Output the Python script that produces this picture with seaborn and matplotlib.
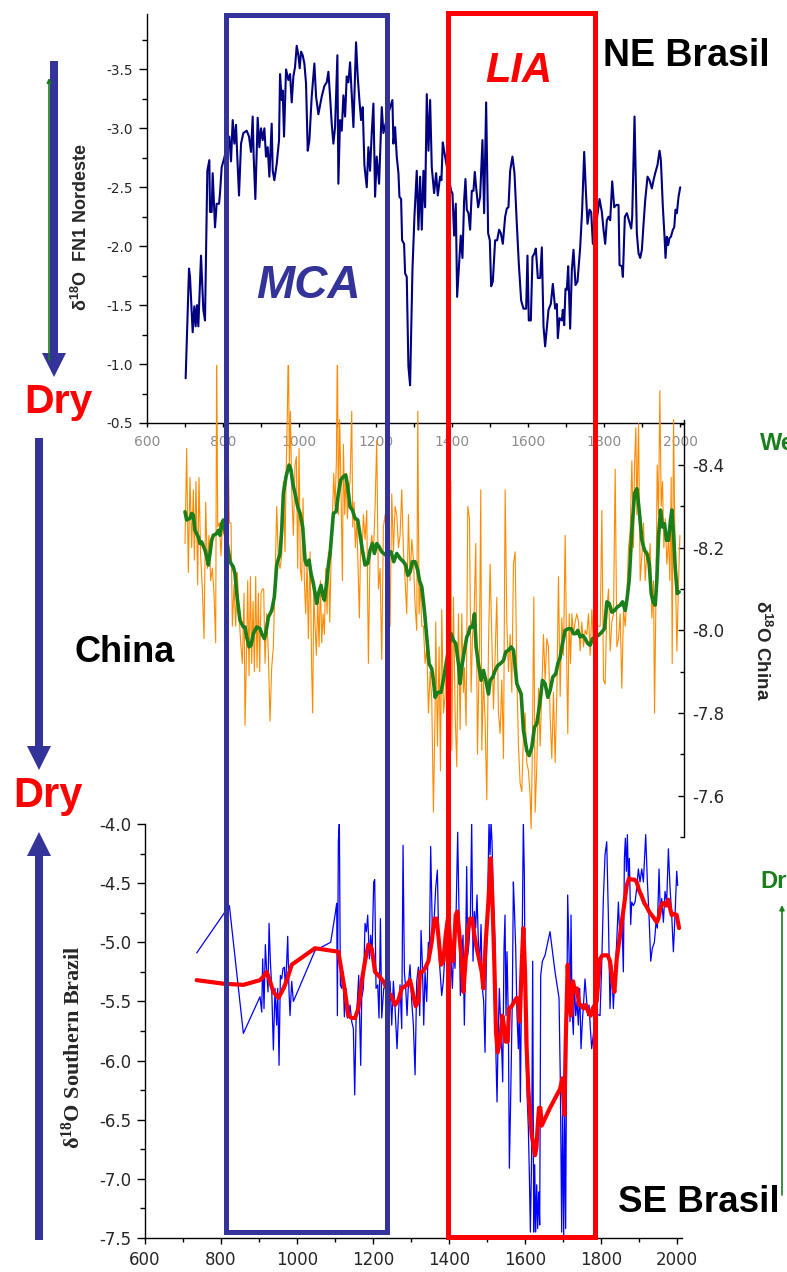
import matplotlib
matplotlib.use("Agg")
import matplotlib.pyplot as plt
import seaborn as sns
from matplotlib.patches import Rectangle, FancyArrow
from matplotlib.ticker import FixedLocator, FormatStrFormatter

# ---------------------------------------------------------------- data
# NE Brazil speleothem record (delta 18O, FN1 Nordeste)
ne_year = [701.5, 710.3, 712.9, 719.9, 724.3, 727.8, 731.3, 734.8, 741.8, 747.9, 752.3, 758.4, 763.7, 765.4,
           769.8, 772.4, 778.6, 782.9, 789.1, 791.7, 796.1, 803.0, 816.2, 820.6, 825.0, 829.4, 833.7, 836.4,
           841.6, 846.9, 853.0, 861.8, 867.9, 873.1, 877.5, 880.1, 884.5, 890.6, 895.0, 899.4, 903.8, 908.2,
           912.5, 916.9, 921.3, 927.4, 930.1, 934.4, 940.6, 946.7, 949.3, 953.7, 956.3, 959.8, 965.1, 971.2,
           975.6, 980.0, 984.3, 988.7, 993.1, 997.5, 1001.0, 1004.5, 1008.8, 1013.2, 1017.6, 1022.0, 1026.4,
           1032.5, 1039.5, 1043.9, 1050.0, 1058.8, 1065.8, 1071.9, 1076.3, 1080.7, 1085.0, 1089.4, 1093.8,
           1099.9, 1102.5, 1106.9, 1111.3, 1115.7, 1120.1, 1124.4, 1128.8, 1133.2, 1137.6, 1142.0, 1148.9,
           1153.3, 1157.7, 1162.1, 1166.5, 1170.8, 1177.0, 1181.3, 1185.7, 1190.1, 1194.5, 1198.9, 1203.2,
           1209.4, 1216.4, 1220.7, 1231.0, 1244.4, 1247.0, 1251.4, 1255.8, 1260.2, 1262.8, 1267.2, 1269.8,
           1275.0, 1277.7, 1282.0, 1286.4, 1290.8, 1297.0, 1302.2, 1308.3, 1312.7, 1317.1, 1321.5, 1325.9,
           1330.2, 1334.6, 1339.0, 1343.4, 1347.7, 1353.9, 1359.1, 1363.5, 1369.6, 1373.1, 1376.6, 1380.1,
           1391.5, 1398.5, 1402.0, 1406.4, 1410.8, 1414.3, 1420.4, 1423.9, 1428.3, 1432.7, 1436.2, 1439.7,
           1444.1, 1448.4, 1452.8, 1457.2, 1460.7, 1464.2, 1469.5, 1474.7, 1480.8, 1485.2, 1490.5, 1495.7,
           1500.1, 1503.6, 1508.0, 1514.1, 1519.4, 1524.6, 1529.0, 1534.3, 1540.4, 1544.8, 1549.1, 1553.5,
           1559.6, 1564.9, 1571.0, 1576.3, 1582.4, 1588.5, 1595.5, 1599.0, 1602.5, 1607.8, 1612.2, 1617.4,
           1620.9, 1626.2, 1632.3, 1636.7, 1641.1, 1645.4, 1654.2, 1660.3, 1665.6, 1671.7, 1676.1, 1678.7,
           1683.1, 1689.2, 1691.9, 1695.4, 1698.9, 1702.4, 1705.9, 1711.1, 1715.5, 1719.9, 1725.1, 1730.4,
           1737.4, 1742.6, 1747.9, 1752.3, 1756.6, 1761.9, 1766.3, 1770.7, 1780.0, 1788.2, 1794.3, 1798.7,
           1803.1, 1807.4, 1811.8, 1816.2, 1821.5, 1826.7, 1832.0, 1838.1, 1840.7, 1846.8, 1849.5, 1854.7,
           1860.0, 1866.1, 1871.4, 1874.0, 1880.1, 1886.2, 1890.6, 1895.0, 1899.4, 1903.8, 1908.1, 1914.3,
           1919.5, 1925.6, 1930.0, 1934.4, 1940.5, 1945.8, 1949.3, 1954.5, 1958.9, 1961.5, 1965.0, 1968.5,
           1972.0, 1975.6, 1980.8, 1984.3, 1987.8, 1991.3, 1995.7, 2000.1]
ne_d18o = [-0.88, -1.81, -1.74, -1.27, -1.49, -1.32, -1.50, -1.32, -1.92, -1.46, -1.37, -2.64, -2.73, -2.29,
           -2.29, -2.62, -2.16, -2.36, -2.36, -2.45, -2.67, -2.75, -2.93, -2.72, -3.07, -2.87, -3.03, -2.81,
           -2.43, -2.87, -2.96, -2.98, -2.93, -2.80, -3.10, -2.76, -2.40, -3.09, -2.84, -3.00, -2.90, -3.00,
           -2.76, -2.84, -2.59, -3.04, -2.64, -2.56, -2.70, -2.90, -3.46, -3.24, -3.32, -2.93, -3.50, -3.41,
           -3.46, -3.22, -3.44, -3.52, -3.70, -3.62, -3.51, -3.65, -3.62, -3.55, -3.38, -2.81, -2.90,
           -3.27, -3.55, -3.27, -3.12, -3.27, -3.36, -3.39, -3.48, -3.27, -3.04, -2.87, -3.01,
           -3.62, -2.53, -3.07, -2.98, -3.28, -3.10, -3.44, -3.39, -3.56, -3.29, -3.01, -3.73,
           -3.44, -3.24, -3.07, -3.18, -2.69, -2.50, -2.84, -2.64, -2.96, -3.21, -2.42, -2.76,
           -2.53, -3.18, -2.96, -3.10, -3.24, -2.87, -3.01, -2.76, -2.62, -2.42, -2.40, -2.05,
           -2.02, -1.77, -1.74, -0.98, -0.82, -1.80, -2.25, -2.64, -2.14, -2.59, -2.14, -2.64,
           -2.33, -3.29, -2.81, -3.24, -2.67, -2.45, -2.62, -2.43, -2.59, -2.56, -2.88, -2.81,
           -2.60, -2.47, -2.45, -2.09, -2.36, -1.57, -1.91, -2.09, -1.90, -2.39, -2.57, -2.31,
           -2.28, -2.14, -2.47, -2.47, -2.63, -2.50, -2.33, -2.42, -2.90, -2.28, -3.22, -2.11,
           -2.05, -1.66, -1.70, -2.05, -2.05, -2.14, -2.11, -2.02, -2.25, -2.32, -2.33, -2.64,
           -2.76, -2.62, -2.19, -1.85, -1.54, -1.47, -1.47, -1.92, -1.37, -1.37, -1.91, -1.94,
           -1.98, -1.73, -1.73, -1.99, -1.32, -1.15, -1.46, -1.51, -1.68, -1.47, -1.51, -1.22,
           -1.39, -1.37, -1.46, -1.33, -1.64, -1.63, -1.83, -1.30, -1.80, -1.97, -1.67, -1.70,
           -1.99, -2.31, -2.80, -2.47, -2.19, -2.31, -2.29, -2.02, -2.20, -2.40, -2.29, -2.14,
           -2.02, -2.22, -2.25, -2.22, -2.55, -2.33, -2.35, -2.35, -1.84, -1.83, -1.74, -2.25,
           -2.28, -2.21, -2.15, -2.25, -3.10, -2.11, -1.94, -1.90, -1.97, -2.19, -2.39, -2.59,
           -2.56, -2.49, -2.56, -2.62, -2.69, -2.81, -2.73, -2.33, -2.08, -1.90, -2.08, -2.01,
           -2.07, -2.08, -2.14, -2.16, -2.31, -2.28, -2.42, -2.50]

# China speleothem record: raw values and smoothed curve
china_year = [699.8, 704.1, 708.5, 712.9, 717.3, 721.7, 724.3, 728.7, 733.0, 736.5, 740.9, 745.3, 749.7,
              754.1, 758.4, 762.8, 767.2, 771.6, 775.9, 780.3, 783.0, 785.6, 790.0, 794.3, 797.8, 802.2,
              809.2, 813.6, 816.2, 820.6, 824.1, 828.5, 832.9, 837.2, 841.6, 846.0, 850.4, 854.8, 857.4,
              860.9, 864.4, 867.9, 871.4, 874.9, 878.4, 881.9, 885.4, 888.9, 892.4, 895.9, 899.4, 902.9,
              906.4, 909.9, 914.3, 918.7, 923.0, 927.4, 931.8, 936.2, 940.6, 944.9, 949.3, 953.7, 958.1,
              962.4, 965.1, 968.6, 971.2, 973.8, 976.5, 980.0, 984.3, 988.7, 992.2, 995.7, 999.2, 1002.7,
              1006.2, 1009.7, 1013.2, 1016.7, 1020.2, 1023.7, 1028.1, 1032.5, 1035.1, 1037.8, 1041.3,
              1044.8, 1048.3, 1051.8, 1055.3, 1058.8, 1062.3, 1065.8, 1069.3, 1072.8, 1076.3, 1079.8,
              1083.3, 1086.8, 1090.3, 1093.8, 1097.3, 1099.9, 1102.5, 1106.0, 1109.5, 1113.1, 1115.7,
              1119.2, 1122.7, 1126.2, 1129.7, 1133.2, 1137.6, 1140.2, 1143.7, 1147.2, 1150.7, 1154.2,
              1157.7, 1161.2, 1164.7, 1168.2, 1172.6, 1177.0, 1181.3, 1185.7, 1190.1, 1194.5, 1198.9,
              1203.2, 1207.6, 1212.0, 1216.4, 1220.7, 1225.1, 1231.2, 1238.3, 1242.6, 1247.0, 1251.4,
              1255.8, 1260.2, 1264.5, 1268.9, 1273.3, 1277.7, 1282.0, 1286.4, 1290.8, 1295.2, 1299.6,
              1303.9, 1308.3, 1311.0, 1314.4, 1317.9, 1321.4, 1325.8, 1330.2, 1334.6, 1339.0, 1343.3,
              1347.7, 1352.1, 1356.5, 1358.2, 1362.6, 1367.0, 1370.5, 1374.0, 1378.4, 1382.7, 1393.2,
              1397.6, 1400.2, 1404.6, 1409.0, 1413.4, 1417.8, 1422.1, 1426.5, 1430.9, 1433.5, 1437.9,
              1442.3, 1446.7, 1451.0, 1454.5, 1458.9, 1463.3, 1467.7, 1472.9, 1476.4, 1479.1, 1483.4,
              1487.8, 1492.2, 1496.6, 1500.9, 1505.3, 1509.7, 1514.1, 1518.5, 1522.8, 1527.2, 1531.6,
              1536.0, 1540.4, 1544.8, 1549.1, 1553.5, 1557.9, 1562.2, 1566.6, 1571.0, 1575.4, 1579.7,
              1584.1, 1588.5, 1592.9, 1597.3, 1601.6, 1606.0, 1608.6, 1612.1, 1615.6, 1619.1, 1623.5,
              1627.9, 1632.3, 1636.7, 1641.0, 1645.4, 1649.8, 1654.2, 1658.6, 1662.9, 1667.3, 1671.7,
              1676.1, 1680.4, 1684.8, 1689.2, 1693.6, 1698.0, 1702.3, 1704.8, 1708.5, 1712.0, 1715.5,
              1719.8, 1724.2, 1728.6, 1733.0, 1737.4, 1741.7, 1746.1, 1750.5, 1754.9, 1759.2, 1763.6,
              1768.0, 1772.4, 1776.8, 1789.9, 1794.3, 1798.6, 1803.0, 1807.4, 1811.8, 1816.2, 1820.6,
              1824.9, 1829.3, 1833.7, 1838.1, 1842.4, 1846.8, 1851.2, 1855.6, 1859.9, 1864.3, 1868.7,
              1873.1, 1877.4, 1880.1, 1883.6, 1886.2, 1890.6, 1895.0, 1899.4, 1903.7, 1908.1, 1912.5,
              1916.9, 1921.2, 1925.6, 1930.0, 1932.6, 1936.1, 1939.6, 1943.1, 1946.6, 1950.1, 1953.6,
              1957.1, 1960.6, 1965.0, 1969.4, 1972.9, 1976.4, 1979.0, 1982.5, 1986.9, 1991.3, 1995.7,
              1999.2]
china_d18o = [-8.21, -8.44, -8.14, -8.37, -8.20, -8.34, -8.17, -8.36, -8.11, -8.37, -8.18, -8.10, -7.98,
              -8.31, -8.15, -8.23, -8.12, -8.15, -8.09, -7.97, -8.70, -8.25, -8.26, -8.18, -8.26, -8.23,
              -8.34, -8.42, -8.26, -8.26, -8.01, -8.11, -8.01, -8.14, -8.04, -7.97, -7.92, -8.09, -7.77,
              -7.93, -8.12, -7.89, -8.13, -7.92, -8.07, -7.90, -8.13, -7.91, -8.09, -7.90, -8.09, -8.10,
              -8.10, -7.92, -8.04, -7.94, -7.78, -7.91, -7.96, -8.12, -8.30, -8.17, -8.15, -8.18, -8.36,
              -8.19, -8.37, -8.53, -8.70, -8.40, -8.53, -8.34, -8.23, -8.40, -8.42, -8.15, -8.44, -8.15,
              -8.12, -8.32, -8.12, -8.04, -8.17, -7.98, -8.19, -7.90, -7.80, -8.09, -8.01,
              -7.94, -8.08, -7.96, -8.12, -7.97, -8.04, -7.99, -8.15, -8.04, -8.19, -8.02,
              -8.17, -8.27, -8.38, -8.30, -8.41, -8.70, -8.28, -8.51, -8.33, -8.12, -8.45,
              -8.28, -8.38, -8.27, -8.34, -8.36, -8.53, -8.25, -8.31, -8.20, -8.27, -8.15,
              -8.03, -8.23, -8.19, -8.28, -8.22, -8.29, -7.92, -8.19, -8.23, -8.19, -8.30,
              -8.46, -8.10, -8.15, -7.93, -8.25, -8.28, -8.16, -8.01, -8.33, -8.19, -8.30,
              -8.28, -8.20, -8.23, -8.34, -8.19, -8.12, -8.04, -8.28, -8.12, -8.22, -8.17,
              -8.06, -8.00, -8.53, -8.04, -8.12, -8.01, -8.01, -7.92, -7.96, -7.80, -7.90,
              -7.83, -7.56, -7.81, -8.02, -7.72, -7.96, -7.66, -8.05, -7.80, -7.84, -8.11,
              -8.36, -7.71, -8.08, -7.80, -7.67, -8.04, -7.76, -8.04, -7.85, -7.91, -7.77,
              -8.30, -8.27, -7.85, -7.98, -8.04, -8.21, -7.70, -7.96, -8.34, -7.71, -7.88,
              -7.78, -7.59, -7.96, -8.16, -7.99, -7.81, -7.94, -8.08, -7.80, -7.75, -7.88,
              -7.69, -8.34, -8.02, -7.90, -7.99, -7.85, -8.16, -8.19, -7.90, -7.72, -7.63,
              -7.61, -7.75, -7.80, -7.68, -7.66, -7.60, -7.52, -7.73, -8.08, -7.56, -7.67,
              -7.86, -7.72, -7.86, -7.99, -7.88, -7.98, -7.96, -7.79, -7.69, -7.85, -7.68,
              -7.85, -8.13, -7.84, -8.03, -7.94, -8.23, -7.91, -7.75, -8.04, -7.92, -8.04,
              -7.99, -8.02, -8.04, -8.02, -7.95, -8.02, -7.96, -8.00, -7.99, -8.04, -7.94,
              -8.05, -7.96, -8.01, -8.01, -8.29, -7.88, -7.87, -8.05, -8.10, -7.95, -8.02,
              -8.04, -8.39, -7.96, -7.98, -8.04, -7.86, -8.05, -8.01, -8.08, -8.20, -8.24,
              -8.41, -8.20, -8.40, -8.49, -8.28, -8.50, -8.12, -8.18, -8.26, -8.12, -8.19,
              -8.15, -8.21, -8.03, -8.12, -7.80, -8.06, -8.40, -8.28, -8.58, -8.30, -8.36,
              -8.20, -8.27, -8.16, -8.22, -8.12, -8.37, -7.92, -8.51, -8.16, -7.95, -8.12,
              -8.23]
china_smooth_year = [699.8, 704.1, 712.9, 717.3, 721.7, 726.0, 734.8, 739.2, 743.5, 752.3, 756.7, 761.1,
                     765.4, 769.8, 774.2, 783.0, 787.3, 791.7, 796.1, 800.5, 813.6, 818.0, 826.7, 831.1,
                     835.5, 844.2, 853.0, 857.4, 861.8, 867.9, 873.1, 879.3, 888.1, 896.8, 901.2, 908.2,
                     911.7, 918.7, 927.4, 934.4, 940.6, 949.3, 953.7, 958.1, 965.1, 973.0, 978.2, 982.6,
                     988.7, 995.7, 1001.9, 1008.8, 1015.0, 1019.4, 1025.5, 1030.7, 1036.9, 1041.2, 1045.6,
                     1050.0, 1057.0, 1061.4, 1065.8, 1071.9, 1076.3, 1080.7, 1089.4, 1096.4, 1102.5, 1108.7,
                     1115.7, 1121.8, 1127.1, 1133.2, 1139.3, 1146.3, 1153.3, 1159.5, 1165.6, 1172.6, 1179.6,
                     1185.7, 1191.9, 1197.1, 1203.2, 1209.4, 1216.4, 1226.9, 1240.9, 1247.9, 1255.8, 1264.5,
                     1273.3, 1279.4, 1284.7, 1290.8, 1296.9, 1304.0, 1311.0, 1315.3, 1321.5, 1328.4, 1334.6,
                     1340.7, 1347.7, 1352.1, 1356.5, 1363.5, 1372.2, 1381.0, 1398.5, 1404.6, 1410.8, 1417.8,
                     1422.1, 1426.5, 1433.5, 1439.7, 1444.0, 1448.4, 1454.5, 1459.8, 1464.2, 1470.3, 1477.3,
                     1483.4, 1489.6, 1496.6, 1500.9, 1507.9, 1514.1, 1521.1, 1527.2, 1536.0, 1542.1, 1549.1,
                     1556.1, 1562.2, 1571.0, 1582.4, 1588.5, 1597.3, 1603.4, 1610.4, 1617.4, 1623.5, 1632.3,
                     1638.4, 1645.4, 1652.4, 1658.6, 1665.6, 1673.4, 1678.7, 1684.8, 1691.0, 1697.9, 1706.7,
                     1713.7, 1719.8, 1725.9, 1731.2, 1737.3, 1743.5, 1750.5, 1757.5, 1763.6, 1769.8, 1785.5,
                     1794.3, 1801.3, 1807.4, 1813.6, 1820.6, 1827.6, 1835.4, 1842.4, 1848.6, 1855.6, 1860.0,
                     1866.1, 1873.1, 1880.1, 1886.2, 1892.3, 1899.4, 1906.3, 1912.5, 1918.6, 1923.9, 1929.1,
                     1934.4, 1938.7, 1943.1, 1948.4, 1953.6, 1958.9, 1964.1, 1969.4, 1974.6, 1978.1, 1982.5,
                     1986.9, 1992.2, 1997.4]
china_smooth_d18o = [-8.287, -8.267, -8.271, -8.283, -8.279, -8.242, -8.226, -8.210, -8.214, -8.194, -8.178,
                     -8.158, -8.186, -8.218, -8.230, -8.234, -8.242, -8.230, -8.258, -8.267, -8.194, -8.166,
                     -8.153, -8.137, -8.089, -8.024, -8.008, -8.008, -7.984, -7.960, -7.964, -7.992, -8.008,
                     -8.004, -7.992, -7.980, -7.992, -8.032, -8.048, -8.081, -8.158, -8.186, -8.242, -8.331,
                     -8.372, -8.400, -8.388, -8.356, -8.331, -8.299, -8.283, -8.250, -8.170, -8.158, -8.170,
                     -8.137, -8.113, -8.089, -8.065, -8.089, -8.109, -8.085, -8.073, -8.117, -8.158, -8.186,
                     -8.283, -8.287, -8.331, -8.364, -8.372, -8.376, -8.347, -8.299, -8.291, -8.271, -8.267,
                     -8.230, -8.194, -8.158, -8.162, -8.194, -8.210, -8.186, -8.210, -8.202, -8.190, -8.182,
                     -8.190, -8.166, -8.186, -8.174, -8.166, -8.158, -8.133, -8.141, -8.166, -8.166, -8.145,
                     -8.121, -8.105, -8.048, -7.984, -7.919, -7.907, -7.879, -7.838, -7.850, -7.850, -7.895,
                     -7.992, -7.976, -7.968, -7.919, -7.871, -7.911, -7.952, -7.984, -7.992, -8.008, -8.008,
                     -8.040, -7.960, -7.919, -7.879, -7.903, -7.879, -7.846, -7.879, -7.887, -7.903, -7.915,
                     -7.919, -7.927, -7.948, -7.952, -7.960, -7.952, -7.871, -7.846, -7.758, -7.709, -7.697,
                     -7.717, -7.766, -7.774, -7.830, -7.879, -7.871, -7.838, -7.855, -7.887, -7.895, -7.919,
                     -7.935, -7.968, -8.000, -8.004, -8.004, -7.992, -7.992, -8.000, -7.984, -7.988, -7.980,
                     -7.968, -7.964, -7.980, -7.988, -7.996, -8.004, -8.069, -8.065, -8.044, -8.048, -8.057,
                     -8.061, -8.069, -8.048, -8.073, -8.121, -8.242, -8.331, -8.343, -8.291, -8.218, -8.194,
                     -8.186, -8.162, -8.089, -8.069, -8.061, -8.121, -8.226, -8.291, -8.250, -8.258, -8.218,
                     -8.218, -8.267, -8.291, -8.234, -8.153, -8.089, -8.093]

# Southern Brazil speleothem record: raw values and smoothed curve
sb_year = [736.0, 822.0, 858.8, 902.7, 907.1, 909.7, 913.2, 916.7, 920.2, 923.7, 926.4, 929.9, 933.4, 937.8,
           942.1, 946.5, 949.2, 952.7, 956.2, 959.7, 963.2, 966.7, 969.3, 972.9, 975.5, 979.0, 981.6, 986.0,
           990.4, 1047.4, 1088.6, 1100.0, 1104.4, 1106.2, 1108.8, 1111.4, 1114.1, 1117.6, 1121.1, 1124.6,
           1129.0, 1132.5, 1136.0, 1139.5, 1143.9, 1148.3, 1151.8, 1155.3, 1158.8, 1162.3, 1167.6, 1170.2,
           1174.6, 1179.0, 1182.5, 1186.0, 1190.4, 1193.9, 1197.4, 1201.8, 1204.4, 1207.9, 1212.3, 1215.8,
           1219.4, 1222.9, 1228.1, 1244.8, 1249.2, 1253.6, 1258.0, 1263.2, 1266.7, 1271.1, 1275.5, 1279.0,
           1282.5, 1286.0, 1289.5, 1293.0, 1297.4, 1301.8, 1306.2, 1310.6, 1315.0, 1319.4, 1322.9, 1326.4,
           1329.9, 1333.4, 1336.8, 1341.2, 1345.6, 1348.2, 1351.7, 1356.1, 1360.5, 1364.9, 1369.3, 1373.6,
           1377.2, 1380.7, 1385.0, 1389.4, 1397.0, 1405.2, 1408.7, 1412.2, 1415.7, 1419.3, 1422.8, 1426.3,
           1429.8, 1433.3, 1436.8, 1440.3, 1443.8, 1446.5, 1449.1, 1452.6, 1456.1, 1459.6, 1463.1, 1466.6,
           1470.1, 1473.6, 1477.2, 1480.7, 1484.2, 1487.7, 1491.2, 1494.7, 1498.2, 1501.7, 1505.2, 1507.9,
           1510.5, 1513.1, 1516.6, 1521.0, 1523.6, 1526.3, 1528.9, 1532.4, 1535.0, 1538.6, 1541.2, 1544.7,
           1547.3, 1549.9, 1552.6, 1556.1, 1558.7, 1561.4, 1564.0, 1566.6, 1569.3, 1571.9, 1575.4, 1578.9,
           1582.4, 1585.0, 1587.7, 1590.3, 1592.9, 1595.5, 1598.2, 1600.8, 1603.5, 1606.1, 1608.7, 1611.4,
           1614.0, 1617.5, 1620.1, 1622.8, 1625.4, 1628.0, 1630.7, 1633.3, 1635.9, 1638.6, 1641.2, 1645.6,
           1652.6, 1665.7, 1678.9, 1689.4, 1692.9, 1696.4, 1699.0, 1701.7, 1704.3, 1706.9, 1709.6, 1712.2,
           1715.7, 1718.4, 1721.0, 1723.6, 1727.1, 1729.8, 1733.3, 1736.8, 1740.3, 1743.8, 1747.3, 1750.8,
           1754.3, 1757.8, 1761.4, 1764.9, 1768.4, 1771.9, 1775.4, 1786.0, 1797.3, 1801.7, 1806.1, 1810.5,
           1814.9, 1819.2, 1823.6, 1828.0, 1832.4, 1836.8, 1841.2, 1845.6, 1849.9, 1854.4, 1858.7, 1861.4,
           1864.0, 1866.6, 1869.3, 1871.9, 1874.5, 1878.0, 1880.7, 1885.1, 1889.5, 1893.9, 1898.2, 1902.6,
           1907.0, 1911.4, 1917.5, 1921.9, 1926.2, 1930.7, 1935.0, 1940.3, 1944.7, 1948.2, 1952.6, 1956.1,
           1959.6, 1964.0, 1968.4, 1972.7, 1977.2, 1981.5, 1985.9, 1990.3, 1994.7, 1999.1, 2001.7]
sb_d18o = [-5.09, -4.69, -5.77, -5.46, -5.59, -5.14, -5.56, -5.02, -5.25, -5.42, -4.84, -5.16, -5.39, -5.91,
           -5.39, -5.70, -5.39, -6.04, -5.28, -5.31, -5.22, -5.21, -5.39, -5.16, -4.95, -5.42, -5.62, -5.33,
           -5.50, -5.07, -5.00, -4.77, -4.67, -5.62, -4.14, -3.98, -5.36, -5.39, -5.25, -5.63,
           -5.39, -5.64, -5.62, -5.53, -5.67, -5.73, -6.29, -5.67, -5.50, -5.28, -6.04, -5.47,
           -5.39, -4.84, -4.91, -4.77, -5.14, -4.94, -5.11, -4.49, -4.47, -5.39, -5.36, -5.64,
           -4.80, -5.64, -5.39, -5.33, -5.70, -5.33, -5.56, -5.90, -5.62, -5.36, -5.73, -4.18,
           -5.25, -5.39, -5.62, -5.36, -5.19, -5.50, -5.70, -6.12, -5.33, -5.21, -5.62, -4.90,
           -5.19, -5.70, -5.25, -5.50, -5.00, -5.11, -4.19, -4.91, -4.83, -4.54, -4.39, -5.11,
           -5.28, -5.45, -5.33, -5.08, -4.90, -5.14, -5.39, -5.04, -5.22, -4.63, -4.07, -4.77,
           -5.45, -5.11, -4.94, -5.70, -5.02, -4.36, -5.11, -5.00, -4.80, -3.98, -5.16, -4.74,
           -4.88, -4.60, -5.00, -5.19, -4.85, -5.39, -5.50, -5.93, -5.16, -4.63, -3.98, -4.26,
           -3.98, -4.15, -4.63, -5.00, -5.98, -6.35, -5.84, -5.39, -5.62, -5.90, -6.18, -5.05,
           -4.77, -5.62, -5.08, -5.67, -6.91, -6.46, -5.95, -5.47, -4.49, -4.71, -5.05, -5.62,
           -5.90, -5.50, -6.35, -5.53, -4.85, -3.98, -4.43, -5.84, -6.04, -6.35, -6.57, -6.97,
           -7.45, -6.77, -5.16, -7.45, -6.88, -7.45, -7.05, -7.42, -7.11, -7.39, -5.28, -5.16,
           -5.11, -4.91, -5.25, -5.47, -6.18, -7.45, -6.38, -7.48, -6.46, -7.42, -5.73, -4.60,
           -5.08, -5.67, -4.77, -5.56, -5.78, -5.33, -5.62, -5.50, -5.70, -5.39, -5.90, -5.67,
           -5.50, -5.31, -5.47, -5.62, -5.53, -5.73, -5.90, -5.60, -5.62, -5.19, -4.63, -4.26,
           -4.15, -4.77, -5.56, -5.19, -5.56, -5.25, -5.00, -4.66, -5.00, -4.77, -5.25, -4.29,
           -4.12, -4.40, -4.09, -4.49, -4.29, -4.85, -4.66, -4.69, -4.66, -4.54, -4.38, -4.49,
           -4.38, -4.49, -4.09, -4.49, -4.77, -5.16, -5.05, -5.00, -4.83, -4.88, -4.38, -4.77,
           -4.63, -4.83, -4.57, -4.66, -4.21, -4.54, -4.77, -5.08, -4.77, -4.40, -4.52]
sb_smooth_year = [736.0, 806.2, 858.8, 902.7, 911.4, 920.2, 929.0, 937.8, 950.9, 959.7, 968.5, 977.2, 986.0,
                  1008.0, 1047.4, 1108.8, 1117.6, 1126.4, 1135.1, 1143.9, 1152.7, 1161.5, 1170.2, 1179.0,
                  1187.8, 1196.5, 1205.3, 1214.1, 1227.2, 1240.4, 1249.2, 1258.0, 1266.7, 1275.5, 1288.7,
                  1297.4, 1306.2, 1312.3, 1319.4, 1323.7, 1329.9, 1336.8, 1345.6, 1354.3, 1361.4, 1367.5,
                  1373.6, 1378.9, 1385.0, 1391.2, 1398.2, 1405.2, 1411.4, 1417.5, 1421.9, 1427.2, 1433.3,
                  1437.7, 1443.8, 1449.1, 1455.2, 1461.4, 1466.6, 1472.8, 1478.9, 1485.9, 1490.3, 1496.5,
                  1503.5, 1509.6, 1514.0, 1519.3, 1523.6, 1528.0, 1534.2, 1540.3, 1545.6, 1549.1, 1554.4,
                  1557.9, 1564.9, 1571.9, 1578.0, 1582.4, 1586.0, 1591.2, 1595.5, 1600.0, 1604.3, 1608.7,
                  1613.1, 1617.5, 1621.9, 1626.3, 1629.8, 1633.3, 1636.8, 1640.3, 1643.8, 1652.6, 1665.7,
                  1678.9, 1692.1, 1698.2, 1703.5, 1707.0, 1712.2, 1716.6, 1721.0, 1726.3, 1731.5, 1736.8,
                  1742.1, 1747.3, 1753.5, 1759.6, 1766.6, 1772.8, 1778.0, 1788.6, 1797.3, 1803.5, 1810.5,
                  1817.5, 1823.6, 1829.8, 1835.1, 1841.2, 1847.4, 1854.4, 1860.5, 1867.5, 1873.7, 1880.7,
                  1887.7, 1893.9, 1900.0, 1907.0, 1914.0, 1920.1, 1926.3, 1933.3, 1940.3, 1946.5, 1950.8,
                  1956.1, 1961.4, 1966.6, 1971.9, 1977.2, 1981.5, 1985.9, 1992.9, 1999.1, 2005.2]
sb_smooth_d18o = [-5.32, -5.35, -5.36, -5.32, -5.29, -5.25, -5.33, -5.42, -5.47, -5.42, -5.36, -5.28, -5.19,
                  -5.14, -5.05, -5.08, -5.25, -5.42, -5.62, -5.64, -5.64, -5.56, -5.33, -5.16,
                  -5.02, -5.05, -5.25, -5.28, -5.33, -5.42, -5.46, -5.53, -5.49, -5.39, -5.36,
                  -5.32, -5.45, -5.54, -5.50, -5.25, -5.25, -5.22, -5.16, -5.00, -4.80, -4.80,
                  -5.00, -5.19, -5.16, -4.94, -4.77, -5.11, -5.16, -4.77, -4.74, -4.94, -5.16,
                  -5.42, -5.14, -4.91, -4.80, -4.80, -4.94, -5.05, -5.14, -5.25, -5.39, -5.00,
                  -4.66, -4.29, -4.63, -5.19, -5.76, -5.93, -5.84, -5.62, -5.73, -5.84, -5.84,
                  -5.56, -5.54, -5.50, -5.47, -5.50, -5.67, -5.19, -4.88, -5.25, -5.90, -6.24,
                  -6.46, -6.63, -6.71, -6.80, -6.74, -6.55, -6.40, -6.40, -6.55, -6.49, -6.40,
                  -6.32, -6.24, -6.15, -6.46, -5.84, -5.19, -5.50, -5.62, -5.33, -5.42, -5.39,
                  -5.53, -5.53, -5.56, -5.53, -5.59, -5.62, -5.56, -5.50, -5.14, -5.11, -5.11,
                  -5.11, -5.16, -5.33, -5.42, -5.14, -5.00, -4.83, -4.69, -4.52, -4.46, -4.47,
                  -4.47, -4.49, -4.56, -4.61, -4.67, -4.70, -4.74, -4.77, -4.80, -4.83, -4.80,
                  -4.71, -4.67, -4.67, -4.69, -4.64, -4.71, -4.77, -4.76, -4.77, -4.88]

# axis ticks
year_major = [600, 800, 1000, 1200, 1400, 1600, 1800, 2000]
year_minor = [700, 900, 1100, 1300, 1500, 1700, 1900]
ne_major = [-3.5, -3.0, -2.5, -2.0, -1.5, -1.0, -0.5]
ne_minor = [-3.75, -3.25, -2.75, -2.25, -1.75, -1.25, -0.75]
china_major = [-8.4, -8.2, -8.0, -7.8, -7.6]
china_minor = [-8.5, -8.3, -8.1, -7.9, -7.7, -7.5]
sb_major = [-7.5, -7.0, -6.5, -6.0, -5.5, -5.0, -4.5, -4.0]
sb_minor = [-7.25, -6.75, -6.25, -5.75, -5.25, -4.75, -4.25]

# ---------------------------------------------------------------- style
sns.set_theme(style="white")
plt.rcParams["font.family"] = ["DejaVu Sans"]
plt.rcParams["axes.unicode_minus"] = False

W, H = 787, 1272
fig = plt.figure(figsize=(W / 100, H / 100), dpi=100, facecolor="white")

NAVY = "#000080"
ORANGE = "#ff8a00"
GREEN = "#1a7f1a"
BLUE = "#0000ff"
RED = "#ff0000"
SLATE = "#333399"


def px_axes(left, top, right, bottom):
    return fig.add_axes([left / W, 1 - bottom / H, (right - left) / W, (bottom - top) / H])


ax_top = px_axes(147, 14, 684, 423)
ax_mid = px_axes(147, 365, 684, 837)
ax_bot = px_axes(145, 824, 682, 1238)
for ax in (ax_top, ax_mid, ax_bot):
    ax.patch.set_visible(False)

# ---- NE Brazil panel
sns.lineplot(x=ne_year, y=ne_d18o, ax=ax_top, color=NAVY, linewidth=1.5,
             estimator=None, sort=False)
ax_top.set_xlim(600, 2010)
ax_top.set_ylim(-0.5, -3.97)
ax_top.spines[["top", "right"]].set_visible(False)
for s in ("left", "bottom"):
    ax_top.spines[s].set_color("black")
    ax_top.spines[s].set_linewidth(1.0)
ax_top.yaxis.set_major_locator(FixedLocator(ne_major))
ax_top.yaxis.set_minor_locator(FixedLocator(ne_minor))
ax_top.yaxis.set_major_formatter(FormatStrFormatter("%.1f"))
ax_top.xaxis.set_major_locator(FixedLocator(year_major))
ax_top.xaxis.set_minor_locator(FixedLocator(year_minor))
ax_top.xaxis.set_major_formatter(FormatStrFormatter("%d"))
ax_top.tick_params(axis="y", which="major", direction="out", length=6, width=1, color="black",
                   labelsize=9.8, pad=4, left=True)
ax_top.tick_params(axis="y", which="minor", direction="out", length=3.5, width=1, color="black", left=True)
ax_top.tick_params(axis="x", which="both", direction="out", length=3, width=1, color="black",
                   labelsize=10, labelcolor="#8c8c8c", pad=6, bottom=True)
ax_top.set_xlabel("")
ax_top.set_ylabel("")

# ---- China panel
sns.lineplot(x=china_year, y=china_d18o, ax=ax_mid, color=ORANGE, linewidth=0.8,
             estimator=None, sort=False)
sns.lineplot(x=china_smooth_year, y=china_smooth_d18o, ax=ax_mid, color=GREEN, linewidth=2.6,
             estimator=None, sort=False)
ax_mid.set_xlim(600, 2010)
ax_mid.set_ylim(-7.5, -8.642)
ax_mid.spines[["top", "left", "bottom"]].set_visible(False)
ax_mid.spines["right"].set_color("black")
ax_mid.spines["right"].set_linewidth(1.0)
ax_mid.spines["right"].set_bounds(-8.51, -7.5)
ax_mid.yaxis.tick_right()
ax_mid.yaxis.set_major_locator(FixedLocator(china_major))
ax_mid.yaxis.set_minor_locator(FixedLocator(china_minor))
ax_mid.yaxis.set_major_formatter(FormatStrFormatter("%.1f"))
ax_mid.tick_params(axis="y", which="major", direction="in", length=4.5, width=1, color="black",
                   labelsize=12, pad=6, right=True)
ax_mid.tick_params(axis="y", which="minor", direction="in", length=3, width=1, color="black", right=True)
ax_mid.set_xticks([])
ax_mid.set_xlabel("")
ax_mid.set_ylabel("")

# ---- Southern Brazil panel
sns.lineplot(x=sb_year, y=sb_d18o, ax=ax_bot, color=BLUE, linewidth=0.9,
             estimator=None, sort=False)
sns.lineplot(x=sb_smooth_year, y=sb_smooth_d18o, ax=ax_bot, color=RED, linewidth=3.0,
             estimator=None, sort=False)
ax_bot.set_xlim(600, 2013)
ax_bot.set_ylim(-7.5, -4.0)
ax_bot.spines[["top", "right"]].set_visible(False)
for s in ("left", "bottom"):
    ax_bot.spines[s].set_color("black")
    ax_bot.spines[s].set_linewidth(1.0)
ax_bot.yaxis.set_major_locator(FixedLocator(sb_major))
ax_bot.yaxis.set_minor_locator(FixedLocator(sb_minor))
ax_bot.yaxis.set_major_formatter(FormatStrFormatter("%.1f"))
ax_bot.xaxis.set_major_locator(FixedLocator(year_major))
ax_bot.xaxis.set_minor_locator(FixedLocator(year_minor))
ax_bot.xaxis.set_major_formatter(FormatStrFormatter("%d"))
ax_bot.tick_params(axis="y", which="major", direction="out", length=6, width=1, color="black",
                   labelsize=12, pad=4, left=True)
ax_bot.tick_params(axis="y", which="minor", direction="out", length=3.5, width=1, color="black", left=True)
ax_bot.tick_params(axis="x", which="major", direction="out", length=4.5, width=1, color="black",
                   labelsize=12, pad=5, bottom=True)
ax_bot.tick_params(axis="x", which="minor", direction="out", length=3, width=1, color="black", bottom=True)
ax_bot.set_xlabel("")
ax_bot.set_ylabel("")

# ---------------------------------------------------------------- annotation layer (pixel coordinates)
ov = fig.add_axes([0, 0, 1, 1], zorder=10)
ov.set_xlim(0, W)
ov.set_ylim(H, 0)
ov.axis("off")
ov.patch.set_visible(False)

# period boxes
ov.add_patch(Rectangle((225.5, 15), 387 - 225.5, 1232 - 15, fill=False, edgecolor=SLATE, linewidth=3.6))
ov.add_patch(Rectangle((447.5, 12.5), 594.5 - 447.5, 1237 - 12.5, fill=False, edgecolor=RED, linewidth=3.6))

# thin green pointers
ov.annotate("", xy=(49, 78), xytext=(49, 360),
            arrowprops=dict(arrowstyle="-|>", color=GREEN, lw=1.2, mutation_scale=6, shrinkA=0, shrinkB=0))
ov.annotate("", xy=(782, 905), xytext=(782, 1195),
            arrowprops=dict(arrowstyle="-|>", color=GREEN, lw=1.2, mutation_scale=7, shrinkA=0, shrinkB=0))

# dry-direction arrows
arrow_kw = dict(width=8, head_width=24, head_length=24, length_includes_head=True,
                facecolor=SLATE, edgecolor="none")
ov.add_patch(FancyArrow(54, 61, 0, 377 - 61, **arrow_kw))
ov.add_patch(FancyArrow(39, 438, 0, 770 - 438, **arrow_kw))
ov.add_patch(FancyArrow(39, 1240, 0, 832 - 1240, **arrow_kw))

sans = "Liberation Sans"
ov.text(24, 413, "Dry", color=RED, fontsize=29.5, fontweight="bold", family=sans, va="baseline")
ov.text(13, 807, "Dry", color=RED, fontsize=30, fontweight="bold", family=sans, va="baseline")
ov.text(760, 450, "Wet", color=GREEN, fontsize=17, fontweight="bold", family=sans, va="baseline")
ov.text(760, 888, "Dry", color=GREEN, fontsize=17, fontweight="bold", family=sans, va="baseline")

ov.text(603, 66, "NE Brasil", color="black", fontsize=27, fontweight="bold", family=sans, va="baseline")
ov.text(74, 662, "China", color="black", fontsize=26, fontweight="bold", family=sans, va="baseline")
ov.text(618, 1212, "SE Brasil", color="black", fontsize=26.5, fontweight="bold", family=sans, va="baseline")
ov.text(256, 298, "MCA", color=SLATE, fontsize=33, fontweight="bold", style="italic", family=sans,
        va="baseline")
ov.text(485, 82, "LIA", color=RED, fontsize=30, fontweight="bold", style="italic", family=sans,
        va="baseline")

# axis titles
ov.text(81, 227, r"$\mathregular{\delta^{18}}$O  FN1 Nordeste", rotation=90, ha="center", va="center",
        fontsize=13, fontweight="bold", family=sans)
ov.text(762, 650, r"$\mathregular{\delta^{18}}$O China", rotation=270, ha="center", va="center",
        fontsize=13.5, fontweight="bold", family=sans)
ov.text(73, 1047, r"$\mathregular{\delta^{18}}$O Southern Brazil", rotation=90, ha="center", va="center",
        fontsize=16, fontweight="bold", family="Liberation Serif")

fig.savefig("out.png", dpi=100, facecolor="white")
